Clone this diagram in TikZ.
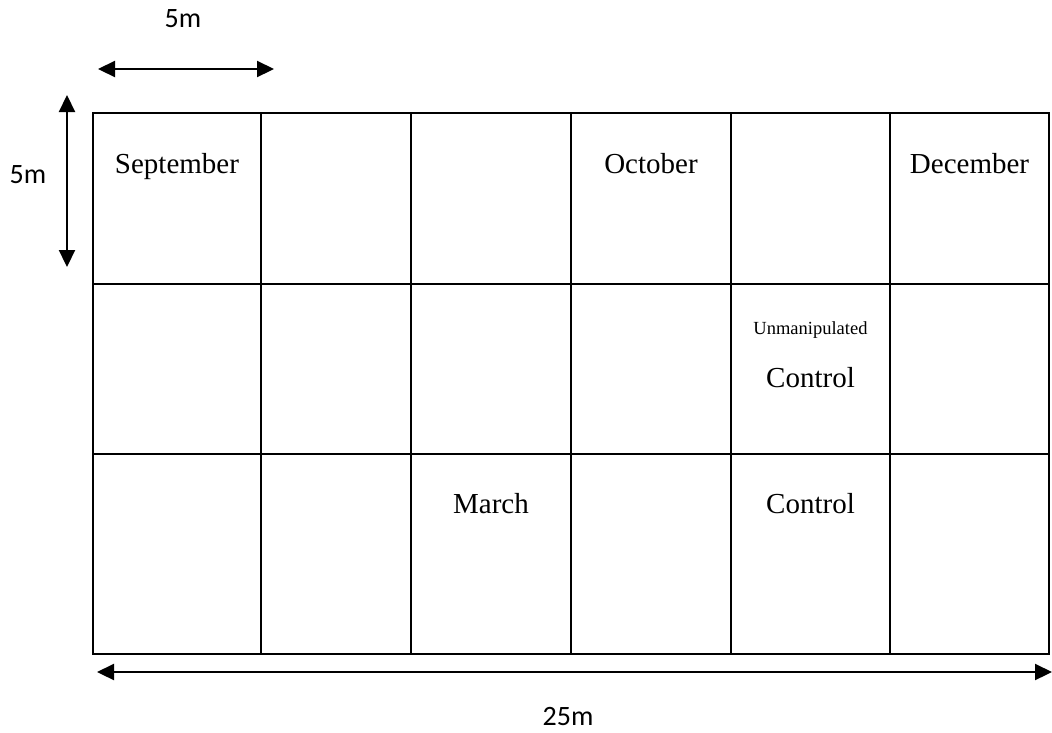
\documentclass[tikz,border=0pt]{standalone}
\usepackage{fontspec}
\setmainfont{Liberation Serif}
\newfontfamily\calib{Carlito}
\usetikzlibrary{arrows.meta}
\begin{document}
\begin{tikzpicture}[x=1pt,y=-1pt,
  gridline/.style={line width=2.2pt,line cap=rect},
  dimarrow/.style={line width=2.2pt,{Triangle[length=17pt,width=16pt]}-{Triangle[length=17pt,width=16pt]}},
  celltext/.style={anchor=base,inner sep=0pt,font=\fontsize{29}{34}\selectfont},
  smalltext/.style={anchor=base,inner sep=0pt,font=\fontsize{18.5}{22}\selectfont},
  dimtext/.style={anchor=base,inner sep=0pt,font=\calib\fontsize{28}{33}\selectfont}]
\useasboundingbox (0,0) rectangle (1052,732);
% grid
\foreach \x in {93,261,411,571,731,890,1049} \draw[gridline] (\x,113) -- (\x,654);
\foreach \y in {113,284,454,654} \draw[gridline] (93,\y) -- (1049,\y);
% cell texts
\node[celltext] (sep) at (177,173) {September};
\node[celltext] (oct) at (651,173) {October};
\node[celltext] (dec) at (969.5,173) {December};
\node[smalltext] (unm) at (810.5,334) {Unmanipulated};
\node[celltext] (ctrl1) at (810.5,387) {Control};
\node[celltext] (mar) at (491,513) {March};
\node[celltext] (ctrl2) at (810.5,513) {Control};
% dimension arrows
\coordinate (ta) at (98,69);
\coordinate (tb) at (274,69);
\coordinate (la) at (67,95);
\coordinate (lb) at (67,267);
\coordinate (ba) at (97,672);
\coordinate (bb) at (1052,672);
\draw[dimarrow] (ta) -- (tb);
\draw[dimarrow] (la) -- (lb);
\draw[dimarrow] (ba) -- (bb);
\node[dimtext] (w5) at (183,27) {5m};
\node[dimtext] (h5) at (28,183) {5m};
\node[dimtext] (w25) at (568,725) {25m};
\end{tikzpicture}
\end{document}
